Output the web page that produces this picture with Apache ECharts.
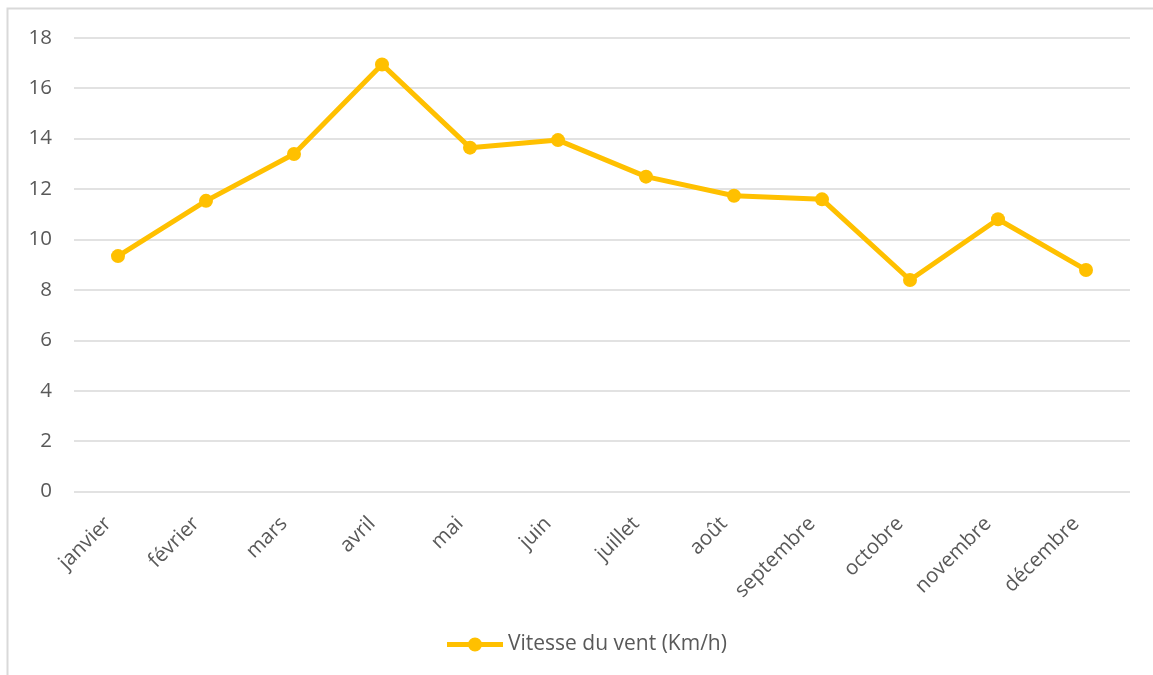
<!DOCTYPE html>
<html>
<head>
<meta charset="utf-8">
<script src="https://cdn.jsdelivr.net/npm/echarts@6/dist/echarts.min.js"></script>
<style>
  html, body { margin: 0; padding: 0; background: #ffffff; }
  #chart { width: 1153px; height: 675px; }
</style>
</head>
<body>
<div id="chart"></div>
<script>
// Monthly average wind speed
const months = ['janvier', 'février', 'mars', 'avril', 'mai', 'juin',
                'juillet', 'août', 'septembre', 'octobre', 'novembre', 'décembre'];
const windSpeed = [9.34, 11.53, 13.39, 16.94, 13.64, 13.94, 12.49, 11.73, 11.59, 8.39, 10.80, 8.79];
const seriesName = 'Vitesse du vent (Km/h)';
const yTicks = { min: 0, max: 18, interval: 2 };

const FONT = '"Open Sans", "Liberation Sans", sans-serif';
const TEXT = '#595959';
const GOLD = '#FFC000';

// legend marker: thick line with a dot in the middle
const LEGEND_ICON = 'path://M0,4.5 L56,4.5 L56,9.5 L0,9.5 Z M21,7 A7,7 0 1,1 35,7 A7,7 0 1,1 21,7 Z';

const chart = echarts.init(document.getElementById('chart'), null, { renderer: 'canvas' });

chart.setOption({
  backgroundColor: '#ffffff',
  animation: false,
  textStyle: { fontFamily: FONT },
  graphic: [
    // chart-area frame (top and left edges visible)
    { type: 'rect', silent: true,
      shape: { x: 7.5, y: 8.5, width: 1300, height: 900 },
      style: { fill: 'none', stroke: '#d9d9d9', lineWidth: 2 } }
  ],
  grid: { left: 74, right: 23, top: 37.7, bottom: 183.4, containLabel: false },
  legend: {
    bottom: 15, left: 442,
    itemWidth: 56, itemHeight: 14, itemGap: 10,
    data: [{ name: seriesName, icon: LEGEND_ICON }],
    textStyle: { color: TEXT, fontSize: 21, fontFamily: FONT }
  },
  xAxis: {
    type: 'category',
    data: months,
    boundaryGap: true,
    axisLine: { show: false },
    axisTick: { show: false },
    axisLabel: { rotate: 45, color: TEXT, fontSize: 20.5, margin: 19, padding: [0, 14, 0, 0],
                 interval: 0, fontFamily: FONT }
  },
  yAxis: {
    type: 'value',
    min: yTicks.min, max: yTicks.max, interval: yTicks.interval,
    axisLine: { show: false },
    axisTick: { show: false },
    splitLine: { lineStyle: { color: '#d9d9d9', width: 1.5 } },
    axisLabel: { color: TEXT, fontSize: 20.5, margin: 22, fontFamily: FONT }
  },
  series: [{
    name: seriesName,
    type: 'line',
    data: windSpeed,
    symbol: 'circle',
    symbolSize: 14,
    lineStyle: { color: GOLD, width: 5 },
    itemStyle: { color: GOLD },
    emphasis: { disabled: true }
  }]
});
</script>
</body>
</html>
